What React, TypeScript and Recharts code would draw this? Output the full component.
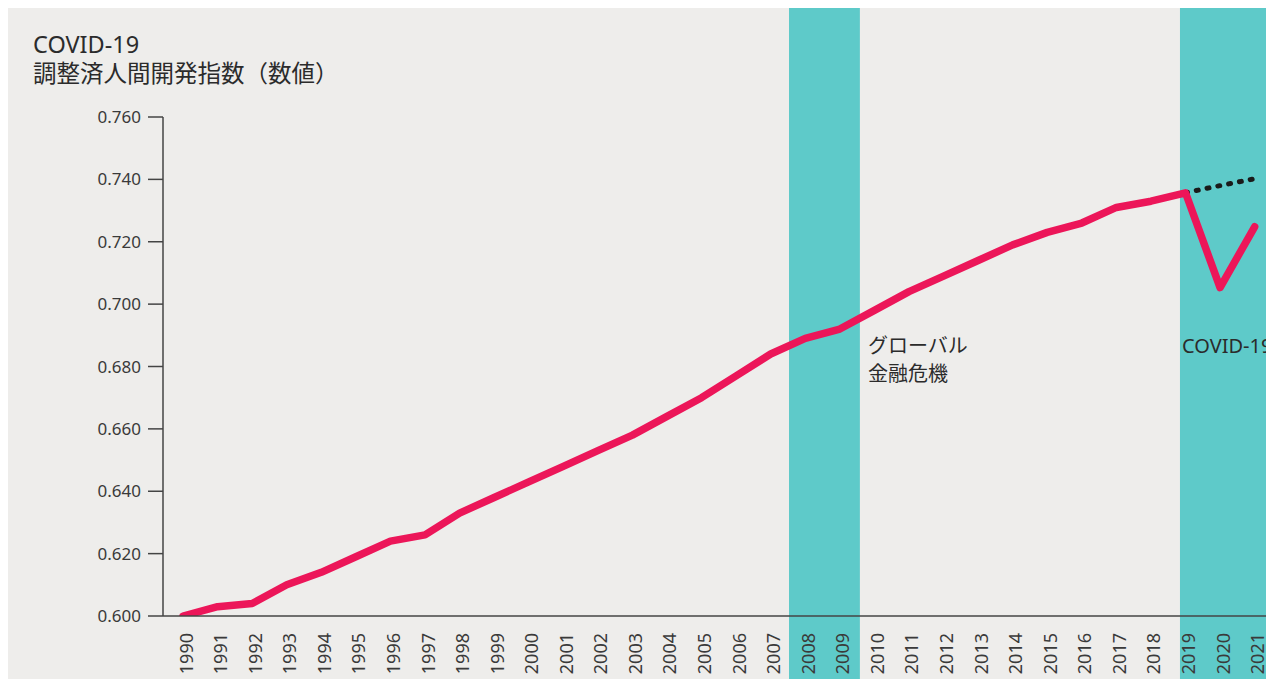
import React from "react";
import { LineChart, Line, XAxis, YAxis, ReferenceArea } from "recharts";

const years = [
  1990, 1991, 1992, 1993, 1994, 1995, 1996, 1997, 1998, 1999, 2000, 2001, 2002, 2003, 2004, 2005,
  2006, 2007, 2008, 2009, 2010, 2011, 2012, 2013, 2014, 2015, 2016, 2017, 2018, 2019, 2020, 2021,
];

// 調整済人間開発指数（実績）
const hdiActual = [
  0.6, 0.603, 0.604, 0.61, 0.614, 0.619, 0.624, 0.626, 0.633, 0.638, 0.643, 0.648, 0.653, 0.658,
  0.664, 0.67, 0.677, 0.684, 0.689, 0.692, 0.698, 0.704, 0.709, 0.714, 0.719, 0.723, 0.726, 0.731,
  0.733, 0.7357, 0.7053, 0.7248,
];

// COVID-19 がなかった場合の推移（点線）
const hdiTrend: (number | null)[] = years.map((y) =>
  y === 2019 ? 0.7357 : y === 2020 ? 0.738 : y === 2021 ? 0.7402 : null
);

const yTicks = [0.6, 0.62, 0.64, 0.66, 0.68, 0.7, 0.72, 0.74, 0.76];

const crisisBands = [
  { from: 2007.53, to: 2009.58 },
  { from: 2018.84, to: 2022 },
];

const data = years.map((year, i) => ({
  year,
  actual: hdiActual[i],
  trend: hdiTrend[i],
}));

const FONT = '"Noto Sans", "Noto Sans CJK JP", sans-serif';
const TEXT = "#2b2b2b";
const AXIS = "#444";
const TEAL = "#5ecac9";
const PINK = "#ec1659";

function YearTick({ x, y, payload }: any) {
  return (
    <g transform={`translate(${x},${y})`}>
      <text
        transform="rotate(-90)"
        x={-9}
        y={0}
        dy={9.5}
        textAnchor="end"
        fill="#3a3a3a"
        fontSize={18}
        fontFamily={FONT}
      >
        {payload.value}
      </text>
    </g>
  );
}

export default function App() {
  return (
    <div
      style={{
        position: "relative",
        width: 1266,
        height: 672,
        background: "#eeedeb",
        overflow: "hidden",
        fontFamily: FONT,
      }}
    >
      <div
        style={{
          position: "absolute",
          left: 25,
          top: 22,
          fontSize: 23.5,
          lineHeight: "29px",
          color: TEXT,
        }}
      >
        COVID-19
        <br />
        調整済人間開発指数（数値）
      </div>

      <LineChart
        width={1266}
        height={672}
        data={data}
        margin={{ top: 109, right: 0, bottom: 0, left: 0 }}
      >
        {crisisBands.map((b) => (
          <ReferenceArea
            key={b.from}
            x1={b.from}
            x2={b.to}
            y1={0.575}
            y2={0.8}
            fill={TEAL}
            fillOpacity={1}
            stroke="none"
            ifOverflow="visible"
          />
        ))}
        <XAxis
          dataKey="year"
          type="number"
          domain={[1989.42, 2021.56]}
          ticks={years}
          interval={0}
          height={64}
          tickLine={false}
          axisLine={{ stroke: AXIS, strokeWidth: 1.5 }}
          tick={<YearTick />}
          allowDataOverflow
        />
        <YAxis
          domain={[0.6, 0.76]}
          ticks={yTicks}
          width={155}
          tickSize={15}
          tickMargin={7}
          tickFormatter={(v: number) => v.toFixed(3)}
          tick={{ fill: "#3a3a3a", fontSize: 17, fontFamily: FONT }}
          axisLine={{ stroke: AXIS, strokeWidth: 1.5 }}
          tickLine={{ stroke: AXIS, strokeWidth: 1.5 }}
          allowDataOverflow
        />
        <Line
          dataKey="trend"
          stroke="#1a1a1a"
          strokeWidth={5}
          strokeDasharray="2 9"
          strokeLinecap="round"
          dot={false}
          connectNulls={false}
          isAnimationActive={false}
        />
        <Line
          dataKey="actual"
          stroke={PINK}
          strokeWidth={7.5}
          strokeLinecap="round"
          strokeLinejoin="round"
          dot={false}
          isAnimationActive={false}
        />
      </LineChart>

      <div
        style={{
          position: "absolute",
          left: 860,
          top: 324,
          fontSize: 20,
          lineHeight: "28px",
          color: TEXT,
        }}
      >
        グローバル
        <br />
        金融危機
      </div>
      <div
        style={{
          position: "absolute",
          left: 1174,
          top: 324,
          fontSize: 20,
          lineHeight: "28px",
          color: TEXT,
          whiteSpace: "nowrap",
        }}
      >
        COVID-19
      </div>
    </div>
  );
}
